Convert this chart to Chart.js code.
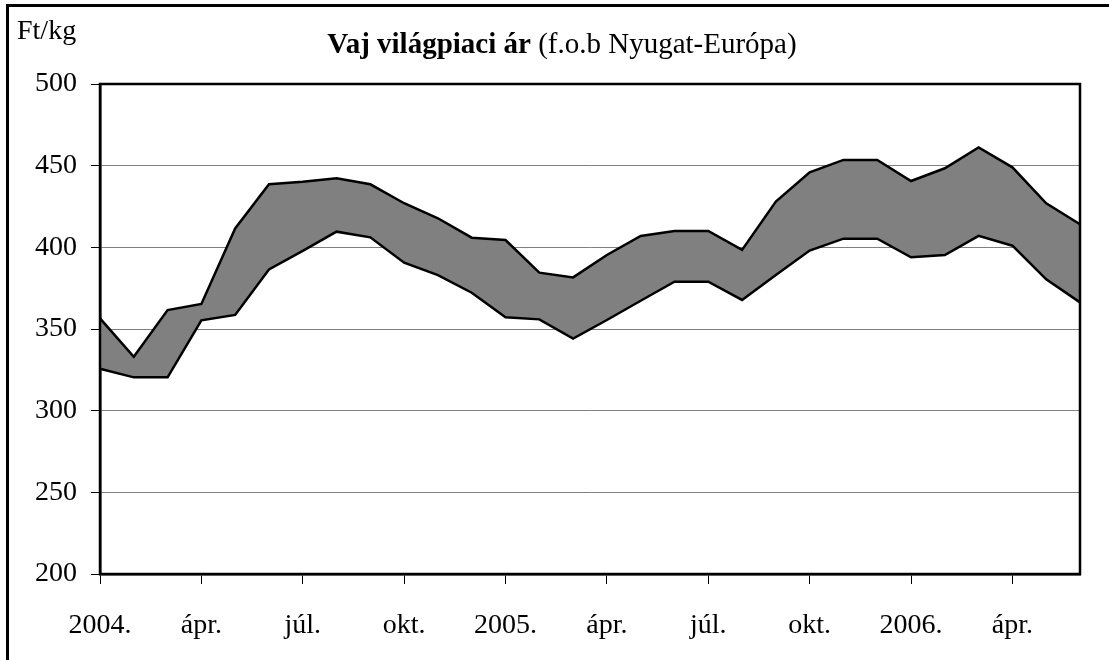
<!DOCTYPE html>
<html>
<head>
<meta charset="utf-8">
<script src="https://cdn.jsdelivr.net/npm/chart.js@4"></script>
<style>
  body { margin: 0; background: #fff; }
  #wrap { position: relative; width: 1109px; height: 660px; overflow: hidden; }
  #frame { position: absolute; left: 6px; top: 4px; width: 1200px; height: 800px;
           border-left: 3px solid #000; border-top: 3px solid #000; }
  canvas { position: absolute; left: 0; top: 0; }
</style>
</head>
<body>
<div id="wrap">
  <div id="frame"></div>
  <canvas id="butterChart" width="1109" height="660"></canvas>
</div>
<script>
// Months Jan 2004 - Jun 2006
const months = [
    '2004.', 'febr.', 'márc.', 'ápr.', 'máj.', 'jún.', 'júl.', 'aug.', 'szept.', 'okt.', 'nov.', 'dec.',
    '2005.', 'febr.', 'márc.', 'ápr.', 'máj.', 'jún.', 'júl.', 'aug.', 'szept.', 'okt.', 'nov.', 'dec.',
    '2006.', 'febr.', 'márc.', 'ápr.', 'máj.', 'jún.'
];
// lower and upper edge of the price band (Ft/kg)
const lowPrice = [325.7, 320.4, 320.4, 355.3, 358.6, 386.5, 397.8, 409.6, 406.1, 390.6, 383, 372.2,
    357.2, 355.9, 344.1, 355.5, 367.3, 379, 379, 367.8, 383, 398, 405.3, 405.3,
    393.9, 395.3, 407, 401, 380.4, 366.3];
const highPrice = [356.5, 333, 361.6, 365.3, 411.6, 438.6, 440.2, 442.3, 438.6, 427, 417.8, 405.9,
    404.5, 384.5, 381.6, 395.3, 407, 410, 410, 398.4, 428, 445.9, 453.5, 453.5,
    440.6, 448.4, 461.2, 449, 427, 414.1];
const yTicks = [200, 250, 300, 350, 400, 450, 500];

const titleBold = 'Vaj világpiaci ár';
const titleRest = ' (f.o.b Nyugat-Európa)';
const unitLabel = 'Ft/kg';

const family = '"Liberation Serif", "Times New Roman", serif';
const font = { family: family, size: 28 };

// black box round the plot area + title and unit text
const plotBox = {
    id: 'plotBox',
    afterDatasetsDraw(chart) {
        const a = chart.chartArea;
        const ctx = chart.ctx;
        ctx.save();
        ctx.strokeStyle = '#000';
        ctx.lineWidth = 2.5;
        ctx.strokeRect(a.left, a.top, a.right - a.left, a.bottom - a.top);
        ctx.restore();
    },
    afterDraw(chart) {
        const ctx = chart.ctx;
        ctx.save();
        ctx.fillStyle = '#000';
        ctx.textBaseline = 'alphabetic';
        ctx.textAlign = 'left';
        ctx.font = '28px ' + family;
        ctx.fillText(unitLabel, 17, 39);
        ctx.font = 'bold 29px ' + family;
        const w1 = ctx.measureText(titleBold).width;
        ctx.font = '29px ' + family;
        const w2 = ctx.measureText(titleRest).width;
        let x = 562 - (w1 + w2) / 2;
        ctx.font = 'bold 29px ' + family;
        ctx.fillText(titleBold, x, 53);
        ctx.font = '29px ' + family;
        ctx.fillText(titleRest, x + w1, 53);
        ctx.restore();
    }
};

const ctx = document.getElementById('butterChart').getContext('2d');
new Chart(ctx, {
    type: 'line',
    data: {
        labels: months,
        datasets: [{
            label: 'min',
            data: lowPrice,
            borderColor: '#000',
            borderWidth: 2.5,
            pointRadius: 0,
            fill: false,
            tension: 0
        }, {
            label: 'max',
            data: highPrice,
            borderColor: '#000',
            borderWidth: 2.5,
            backgroundColor: '#808080',
            pointRadius: 0,
            fill: '-1',
            tension: 0
        }]
    },
    options: {
        responsive: false,
        animation: false,
        layout: { padding: { top: 84, right: 29, left: 0, bottom: 0 } },
        plugins: { legend: { display: false }, tooltip: { enabled: false } },
        scales: {
            x: {
                offset: false,
                grid: {
                    drawOnChartArea: false,
                    tickLength: 10,
                    tickColor: c => (c.index % 3 === 0 ? '#000' : 'rgba(0,0,0,0)')
                },
                border: { color: '#000', width: 2.5 },
                ticks: {
                    autoSkip: false,
                    maxRotation: 0,
                    padding: 25,
                    color: '#000',
                    font: font,
                    callback: (v, i) => (i % 3 === 0 ? months[i] : '')
                },
                afterFit: s => { s.height = 86; }
            },
            y: {
                min: yTicks[0],
                max: yTicks[yTicks.length - 1],
                grid: { color: '#808080', lineWidth: 1, tickLength: 9, tickColor: '#000' },
                border: { color: '#000', width: 2.5 },
                ticks: { stepSize: 50, padding: 14, color: '#000', font: font },
                afterFit: s => { s.width = 100; }
            }
        }
    },
    plugins: [plotBox]
});
</script>
</body>
</html>
